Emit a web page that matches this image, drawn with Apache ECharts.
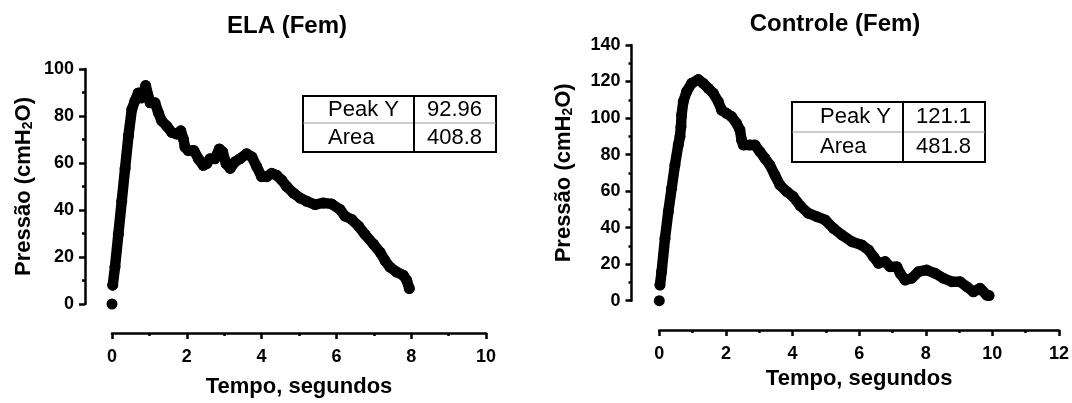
<!DOCTYPE html>
<html>
<head>
<meta charset="utf-8">
<script src="https://cdn.jsdelivr.net/npm/echarts@6/dist/echarts.min.js"></script>
<style>
  html, body { margin: 0; padding: 0; background: #fff; }
  #chart { width: 1072px; height: 403px; }
</style>
</head>
<body>
<div id="chart"></div>
<script>
// ELA (Fem): pressure trace over time
const elaTime = [0, 0.02, 0.08, 0.17, 0.26, 0.35, 0.44, 0.53, 0.61, 0.70, 0.79, 0.90, 1.02, 1.15, 1.24, 1.33, 1.46, 1.60, 1.73, 1.84, 1.91, 1.95, 2.04, 2.19, 2.31, 2.44, 2.53, 2.62, 2.75, 2.87, 2.96, 3.05, 3.16, 3.29, 3.42, 3.60, 3.74, 3.87, 4.00, 4.14, 4.27, 4.40, 4.54, 4.67, 4.85, 5.03, 5.21, 5.43, 5.65, 5.87, 6.10, 6.23, 6.41, 6.59, 6.76, 6.99, 7.17, 7.30, 7.43, 7.61, 7.79, 7.88, 7.95];
const elaPressure = [0, 8, 15.7, 29.7, 43.7, 57.7, 71.6, 82.8, 86.3, 89.8, 87.7, 92.96, 85.6, 85.6, 81.4, 77.9, 75.8, 73.0, 72.3, 73.7, 70.2, 66.8, 65.3, 65.3, 61.8, 59.0, 59.7, 61.8, 61.8, 66.0, 64.7, 59.7, 57.7, 60.5, 61.8, 63.9, 62.6, 58.4, 54.2, 54.2, 55.6, 54.8, 52.7, 50.0, 47.2, 45.1, 43.7, 42.3, 43.0, 42.6, 40.2, 37.4, 36.0, 33.2, 29.7, 25.5, 22.0, 18.5, 15.7, 13.6, 12.2, 10.1, 6.6];

// Controle (Fem): pressure trace over time
const ctrlTime = [0, 0.02, 0.07, 0.17, 0.27, 0.37, 0.47, 0.57, 0.62, 0.65, 0.67, 0.72, 0.82, 0.97, 1.17, 1.32, 1.47, 1.62, 1.77, 1.87, 2.02, 2.17, 2.32, 2.42, 2.47, 2.52, 2.72, 2.87, 3.02, 3.17, 3.32, 3.47, 3.62, 3.83, 4.02, 4.23, 4.47, 4.73, 4.98, 5.23, 5.48, 5.78, 6.08, 6.28, 6.43, 6.58, 6.78, 6.93, 7.13, 7.23, 7.38, 7.58, 7.78, 8.03, 8.28, 8.53, 8.78, 9.03, 9.23, 9.43, 9.63, 9.83, 9.9];
const ctrlPressure = [0, 8.6, 15.9, 34, 48.7, 61.5, 74.3, 85.3, 89.8, 95.3, 101.7, 109, 114.5, 119, 121.1, 119, 116.3, 113.6, 109, 104.4, 102.6, 100.8, 97.1, 93.5, 88, 85.3, 85.3, 85.3, 81.6, 78, 74.3, 68.8, 63.4, 59.7, 57, 52, 47.9, 46, 44.2, 39.6, 36, 32.3, 30.5, 27.8, 24.1, 20.5, 21.4, 18.6, 18.6, 15, 11.3, 12.3, 15.9, 16.8, 15, 12.3, 10.4, 10.4, 7.7, 4.9, 6.8, 3.1, 2.8];

// Summary tables
const statLabels = ['Peak Y', 'Area'];
const elaStats = ['92.96', '408.8'];
const ctrlStats = ['121.1', '481.8'];

// Panel titles and axis ticks
const panelTitles = ['ELA (Fem)', 'Controle (Fem)'];
const xTitle = 'Tempo, segundos';
const yTitle = 'Pressão (cmH{sub|2}O)';
const elaXTicks = { min: 0, max: 10, interval: 2 };
const elaYTicks = { min: 0, max: 100, interval: 20 };
const ctrlXTicks = { min: 0, max: 12, interval: 2 };
const ctrlYTicks = { min: 0, max: 140, interval: 20 };

const FONT = '"Liberation Sans", Arial, Helvetica, sans-serif';

const pairs = (xs, ys) => xs.map((x, i) => [x, ys[i]]);

function axisCommon() {
  return {
    axisLine: { show: true, onZero: false, lineStyle: { color: '#000', width: 2.5 } },
    axisTick: { show: true, inside: false, length: 6, lineStyle: { color: '#000', width: 2.5 } },
    minorTick: { show: true, splitNumber: 2, length: 3, lineStyle: { color: '#000', width: 2.5 } },
    splitLine: { show: false },
    minorSplitLine: { show: false },
    axisLabel: { color: '#000', fontSize: 18, fontWeight: 'bold', fontFamily: FONT },
    nameTextStyle: {
      color: '#000', fontSize: 22, fontWeight: 'bold', fontFamily: FONT,
      rich: { sub: { fontSize: 14, fontWeight: 'bold', fontFamily: FONT, color: '#000', verticalAlign: 'bottom', padding: [9, 0, 0, 0] } }
    }
  };
}

function xAxisDef(gridIndex, ticks, offset, nameGap) {
  const a = axisCommon();
  return Object.assign(a, {
    type: 'value', gridIndex, min: ticks.min, max: ticks.max, interval: ticks.interval,
    position: 'bottom', offset, name: xTitle, nameLocation: 'middle', nameGap,
    axisLabel: Object.assign(a.axisLabel, { margin: 15 })
  });
}

function yAxisDef(gridIndex, ticks, offset, nameGap) {
  const a = axisCommon();
  return Object.assign(a, {
    type: 'value', gridIndex, min: ticks.min, max: ticks.max, interval: ticks.interval,
    position: 'left', offset, name: yTitle, nameLocation: 'middle', nameGap,
    axisLabel: Object.assign(a.axisLabel, { margin: 11 })
  });
}

function traceSeries(idx, xs, ys) {
  const pts = pairs(xs, ys);
  return [
    {
      type: 'line', xAxisIndex: idx, yAxisIndex: idx, data: pts.slice(1),
      showSymbol: false, symbol: 'none', silent: true,
      lineStyle: { color: '#000', width: 10.5, cap: 'round', join: 'round' }
    },
    {
      type: 'scatter', xAxisIndex: idx, yAxisIndex: idx, data: pts,
      symbol: 'circle', symbolSize: 11, silent: true,
      itemStyle: { color: '#000', opacity: 1 }
    }
  ];
}

function statTable(x, y, w, col1, rowH1, rowH2, labelPad, valuePad, values) {
  const h = rowH1 + rowH2;
  const textStyle = { fill: '#000', fontSize: 22, fontFamily: FONT, fontWeight: 'normal', verticalAlign: 'middle', align: 'left' };
  const rows = [y + rowH1 / 2, y + rowH1 + rowH2 / 2];
  const els = [
    { type: 'rect', shape: { x, y, width: w, height: h }, style: { fill: '#fff', stroke: '#000', lineWidth: 2 } },
    { type: 'line', shape: { x1: x, y1: y + rowH1, x2: x + w, y2: y + rowH1 }, style: { stroke: '#9a9a9a', lineWidth: 1 } },
    { type: 'line', shape: { x1: x + col1, y1: y, x2: x + col1, y2: y + h }, style: { stroke: '#000', lineWidth: 2 } }
  ];
  statLabels.forEach((lab, i) => {
    els.push({ type: 'text', x: x + labelPad, y: rows[i], style: Object.assign({ text: lab }, textStyle) });
    els.push({ type: 'text', x: x + col1 + valuePad, y: rows[i], style: Object.assign({ text: values[i] }, textStyle) });
  });
  return els;
}

const chart = echarts.init(document.getElementById('chart'), null, { renderer: 'canvas' });

chart.setOption({
  animation: false,
  backgroundColor: '#fff',
  title: [
    { text: panelTitles[0], left: 287, top: 14, textAlign: 'center', padding: 0,
      textStyle: { color: '#000', fontSize: 24, fontWeight: 'bold', fontFamily: FONT } },
    { text: panelTitles[1], left: 835, top: 12, textAlign: 'center', padding: 0,
      textStyle: { color: '#000', fontSize: 24, fontWeight: 'bold', fontFamily: FONT } }
  ],
  grid: [
    { left: 112, top: 69, width: 374, height: 238.5, containLabel: false },
    { left: 659.3, top: 45, width: 399.7, height: 255.7, containLabel: false }
  ],
  xAxis: [
    xAxisDef(0, elaXTicks, 29, 43),
    xAxisDef(1, ctrlXTicks, 29.3, 38)
  ],
  yAxis: [
    yAxisDef(0, elaYTicks, 27, 50),
    yAxisDef(1, ctrlYTicks, 27.8, 56)
  ],
  series: [].concat(
    traceSeries(0, elaTime, elaPressure),
    traceSeries(1, ctrlTime, ctrlPressure)
  ),
  graphic: [].concat(
    statTable(303, 96, 193, 111, 27, 29, 25, 13, elaStats),
    statTable(792, 102, 193, 111, 30, 30, 28, 13, ctrlStats)
  )
});
</script>
</body>
</html>
